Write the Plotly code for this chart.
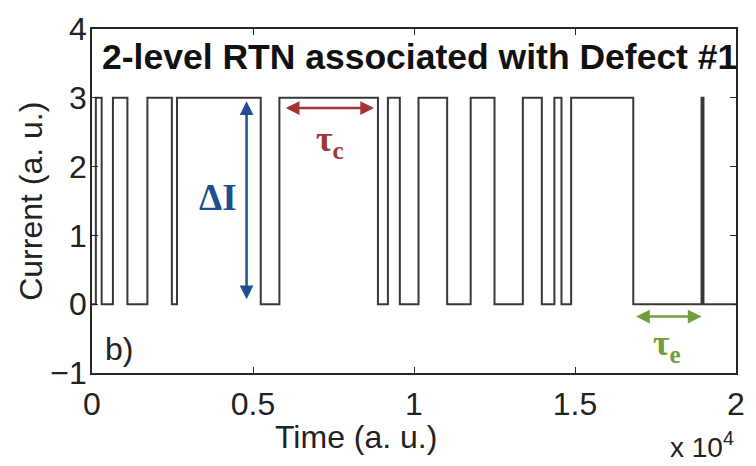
import plotly.graph_objects as go

# Switching instants of the two-level random telegraph signal and the level held from each
switch_times = [0, 120, 300, 650, 1100, 1720, 2480, 2640, 5240, 5820, 8880, 9190, 9560,
                10140, 11030, 11760, 12500, 13380, 13970, 14360, 14580, 14880, 16810,
                18930, 18990, 20000]
current_levels = [0, 3, 0, 3, 0, 3, 0, 3, 0, 3, 0, 3, 0, 3, 0, 3, 0, 3, 0, 3, 0, 3, 0,
                  3, 0, 0]

x_tick_vals = [0, 5000, 10000, 15000, 20000]
x_tick_text = ["0", "0.5", "1", "1.5", "2"]
y_tick_vals = [-1, 0, 1, 2, 3, 4]

# Marked intervals: step height, capture time, emission time
delta_i = {"t": 4800, "lo": 0.05, "hi": 2.95, "label_t": 3920, "label_y": 1.55}
tau_c = {"t0": 5970, "t1": 8760, "y": 2.85, "label_t": 7380, "label_y": 2.36}
tau_e = {"t0": 16850, "t1": 18930, "y": -0.18, "label_t": 17850, "label_y": -0.6}

SANS = "Liberation Sans, Arial, sans-serif"
SERIF = "Liberation Serif, Times New Roman, serif"
AXIS_COLOR = "#262626"
BLUE = "#1f4f8f"
RED = "#a33434"
GREEN = "#6f9e3c"

fig = go.Figure()
fig.add_trace(go.Scatter(
    x=switch_times, y=current_levels, mode="lines", line_shape="hv",
    line=dict(color="#383838", width=2), showlegend=False, hoverinfo="skip",
))

axis_common = dict(
    showline=True, linecolor=AXIS_COLOR, linewidth=1.8, mirror="ticks",
    ticks="inside", ticklen=6, tickwidth=1.2, tickcolor=AXIS_COLOR,
    showgrid=False, zeroline=False,
    tickfont=dict(family=SANS, size=32, color="#222"),
)
fig.update_xaxes(range=[0, 20000], tickvals=x_tick_vals, ticktext=x_tick_text,
                 ticklabelstandoff=2, **axis_common)
fig.update_yaxes(range=[-1, 4], tickvals=y_tick_vals, ticklabelstandoff=-3, **axis_common)

annotations = [
    # headline inside the plot box
    dict(text="<b>2-level RTN associated with Defect #1</b>", xref="paper", yref="y",
         x=0.508, y=3.6, showarrow=False,
         font=dict(family=SANS, size=35.5, color="#111")),
    dict(text="b)", xref="x", yref="y", x=330, y=-0.65, xanchor="left", showarrow=False,
         font=dict(family=SANS, size=32, color="#222")),
    # axis titles
    dict(text="Time (a. u.)", xref="paper", yref="paper", x=0.41, y=-0.185,
         xanchor="center", yanchor="middle", showarrow=False,
         font=dict(family=SANS, size=32, color="#222")),
    dict(text="Current (a. u.)", xref="paper", yref="paper", x=-0.095, y=0.5,
         textangle=-90, xanchor="center", yanchor="middle", showarrow=False,
         font=dict(family=SANS, size=32, color="#222")),
    dict(text="x 10<sup>4</sup>", xref="paper", yref="paper", x=1.0, y=-0.21,
         xanchor="right", yanchor="middle", showarrow=False,
         font=dict(family=SANS, size=28, color="#222")),
    # ΔI double arrow and label
    dict(x=delta_i["t"], y=delta_i["hi"], ax=delta_i["t"], ay=delta_i["lo"],
         xref="x", yref="y", axref="x", ayref="y", text="", showarrow=True,
         arrowside="end+start", arrowhead=2, arrowsize=1.1, arrowwidth=2.5,
         arrowcolor=BLUE, standoff=0, startstandoff=0),
    dict(text="<b>ΔI</b>", xref="x", yref="y", x=delta_i["label_t"], y=delta_i["label_y"],
         showarrow=False, font=dict(family=SERIF, size=37, color=BLUE)),
    # τc double arrow and label
    dict(x=tau_c["t1"], y=tau_c["y"], ax=tau_c["t0"], ay=tau_c["y"],
         xref="x", yref="y", axref="x", ayref="y", text="", showarrow=True,
         arrowside="end+start", arrowhead=2, arrowsize=1.1, arrowwidth=2.5,
         arrowcolor=RED, standoff=0, startstandoff=0),
    dict(text="<b>τ<sub>c</sub></b>", xref="x", yref="y", x=tau_c["label_t"],
         y=tau_c["label_y"], showarrow=False, font=dict(family=SERIF, size=36, color=RED)),
    # τe double arrow and label
    dict(x=tau_e["t1"], y=tau_e["y"], ax=tau_e["t0"], ay=tau_e["y"],
         xref="x", yref="y", axref="x", ayref="y", text="", showarrow=True,
         arrowside="end+start", arrowhead=2, arrowsize=1.1, arrowwidth=2.5,
         arrowcolor=GREEN, standoff=0, startstandoff=0),
    dict(text="<b>τ<sub>e</sub></b>", xref="x", yref="y", x=tau_e["label_t"],
         y=tau_e["label_y"], showarrow=False, font=dict(family=SERIF, size=36, color=GREEN)),
]

fig.update_layout(
    width=756, height=466,
    margin=dict(l=92, r=11, t=21, b=93),
    paper_bgcolor="white", plot_bgcolor="white",
    annotations=annotations,
)

fig.write_html("out.html")
